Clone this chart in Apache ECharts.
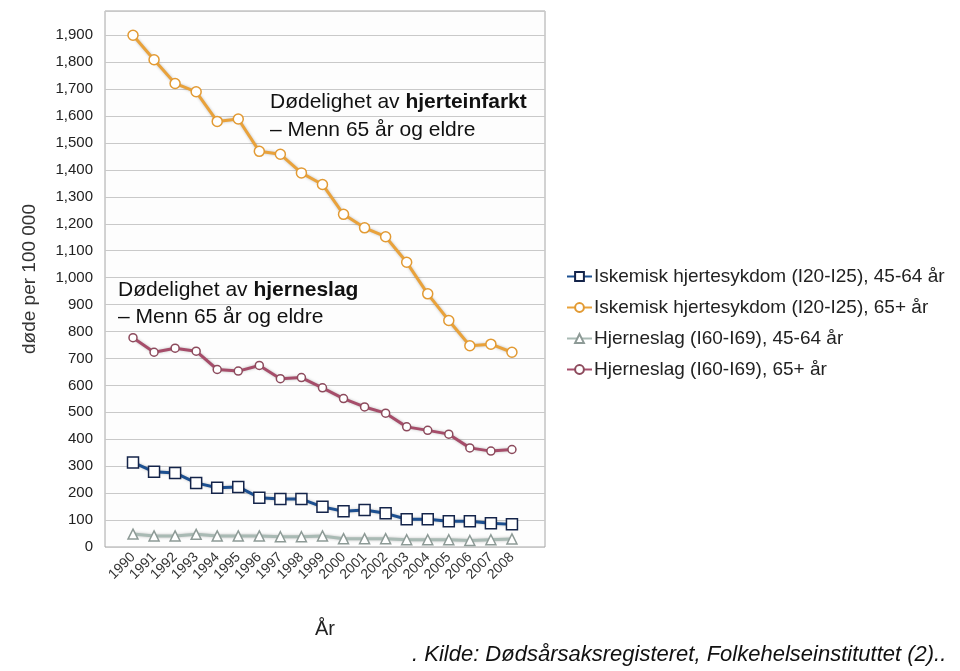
<!DOCTYPE html>
<html>
<head>
<meta charset="utf-8">
<script src="https://cdn.jsdelivr.net/npm/echarts@6/dist/echarts.min.js"></script>
<style>
  html, body { margin: 0; padding: 0; background: #fff; }
  #chart { width: 960px; height: 671px; }
</style>
</head>
<body>
<div id="chart"></div>
<script>
// årstall (x-aksen)
const years = [1990, 1991, 1992, 1993, 1994, 1995, 1996, 1997, 1998, 1999,
  2000, 2001, 2002, 2003, 2004, 2005, 2006, 2007, 2008]
const seriesNames = [
  'Iskemisk hjertesykdom (I20-I25), 45-64 år',
  'Iskemisk hjertesykdom (I20-I25), 65+ år',
  'Hjerneslag (I60-I69), 45-64 år',
  'Hjerneslag (I60-I69), 65+ år'
]
// døde per 100 000
const hjerte4564 = [314, 279, 275, 238, 220, 223, 183, 178, 178, 149, 133, 137, 125, 103, 103, 96, 96, 88, 84]
const hjerte65 = [1900, 1809, 1721, 1690, 1580, 1589, 1469, 1458, 1389, 1346, 1235, 1185, 1152, 1057, 940, 841, 747, 753, 723]
const slag4564 = [48, 41, 41, 47, 41, 41, 41, 38, 38, 41, 31, 31, 31, 27, 27, 27, 24, 27, 30]
const slag65 = [777, 723, 738, 727, 659, 653, 674, 625, 629, 591, 551, 520, 497, 446, 433, 419, 368, 356, 362]
const yTicks = [0, 100, 200, 300, 400, 500, 600, 700, 800, 900, 1000, 1100, 1200, 1300, 1400, 1500, 1600, 1700, 1800, 1900]

const chart = echarts.init(document.getElementById('chart'), null, { renderer: 'canvas' })
const font = 'Liberation Sans, Arial, sans-serif'

function mkSeries(name, vals, color, symbol, size, border) {
  return {
    name: name,
    type: 'line',
    data: years.map((y, i) => [y, vals[i]]),
    symbol: symbol,
    symbolSize: size,
    lineStyle: { color: color, width: 3, shadowColor: 'rgba(0,0,0,0.25)', shadowBlur: 3 },
    itemStyle: { color: '#fff', borderColor: border, borderWidth: 1.5 },
    color: color
  }
}

chart.setOption({
  animation: false,
  textStyle: { fontFamily: font },
  grid: { left: 105, right: 415, top: 11, bottom: 124, show: true, borderColor: '#a6a6a6', borderWidth: 1, backgroundColor: '#fdfdfd' },
  legend: {
    orient: 'vertical',
    left: 561,
    top: 262,
    itemWidth: 25,
    itemHeight: 11,
    itemGap: 12,
    textStyle: { fontSize: 19, color: '#222', fontFamily: font, padding: [0, 0, 0, -3] },
    data: seriesNames
  },
  xAxis: {
    type: 'value',
    min: 1988.67,
    max: 2009.57,
    name: 'År',
    nameLocation: 'middle',
    nameGap: 72,
    nameTextStyle: { fontSize: 20, color: '#222' },
    axisLine: { show: false },
    axisTick: { show: false },
    splitLine: { show: false },
    axisLabel: {
      customValues: years,
      rotate: 45,
      margin: 8,
      fontSize: 14,
      color: '#333',
      formatter: v => String(v)
    }
  },
  yAxis: {
    type: 'value',
    min: 0,
    max: 1990,
    interval: 100,
    name: 'døde per 100 000',
    nameLocation: 'middle',
    nameGap: 66,
    nameTextStyle: { fontSize: 19, color: '#333' },
    axisLine: { show: false },
    axisTick: { show: false },
    splitLine: { lineStyle: { color: '#c9c9c9', width: 1 } },
    axisLabel: {
      customValues: yTicks,
      margin: 12,
      fontSize: 15,
      color: '#222',
      formatter: v => v.toLocaleString('en-US')
    }
  },
  graphic: [
    {
      type: 'text', left: 270, top: 92,
      style: {
        text: '{n|Dødelighet av }{b|hjerteinfarkt}\n{n|– Menn 65 år og eldre}',
        rich: {
          n: { fontSize: 21, fontFamily: font, fill: '#111', lineHeight: 28 },
          b: { fontSize: 21, fontFamily: font, fontWeight: 'bold', fill: '#111', lineHeight: 28 }
        }
      }
    },
    {
      type: 'text', left: 118, top: 280,
      style: {
        text: '{n|Dødelighet av }{b|hjerneslag}\n{n|– Menn 65 år og eldre}',
        rich: {
          n: { fontSize: 21, fontFamily: font, fill: '#111', lineHeight: 27 },
          b: { fontSize: 21, fontFamily: font, fontWeight: 'bold', fill: '#111', lineHeight: 27 }
        }
      }
    },
    {
      type: 'text', left: 412, top: 644,
      style: {
        text: '. Kilde: Dødsårsaksregisteret, Folkehelseinstituttet (2)..',
        fontSize: 22, fontStyle: 'italic', fontFamily: font, fill: '#111'
      }
    }
  ],
  series: [
    mkSeries(seriesNames[0], hjerte4564, '#1d5091', 'rect', 11, '#14244a'),
    mkSeries(seriesNames[1], hjerte65, '#e9a23b', 'circle', 10, '#e29a33'),
    mkSeries(seriesNames[2], slag4564, '#a9bab4', 'triangle', 10, '#8d9a96'),
    mkSeries(seriesNames[3], slag65, '#a64d6a', 'circle', 8, '#8c4a5c')
  ]
})
</script>
</body>
</html>
